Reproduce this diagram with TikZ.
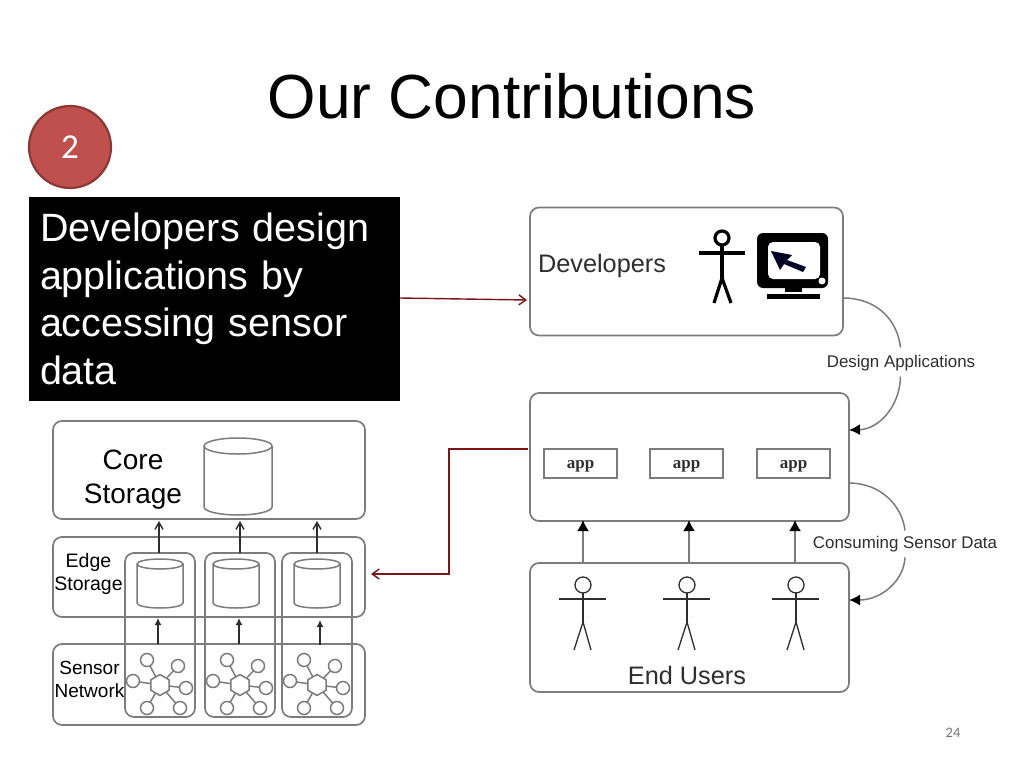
\documentclass[tikz,border=0pt]{standalone}
\usepackage{fontspec}
\setmainfont{Liberation Sans}
\newfontfamily\calib{Carlito}
\usetikzlibrary{arrows.meta,shapes.geometric}
\definecolor{lineg}{HTML}{7C7C7C}
\definecolor{linedk}{HTML}{2E2E2E}
\definecolor{darkred}{HTML}{7B1518}
\definecolor{badge}{HTML}{C0504D}
\definecolor{badgeb}{HTML}{8C3836}
\newcommand{\fs}[2]{\fontsize{#1}{#2}\selectfont}
\tikzset{
  every node/.append style={outer sep=0pt},
  bx/.style={draw=lineg,line width=1.7pt,rounded corners=9pt,inner sep=0pt},
  appbox/.style={draw=lineg,line width=1.7pt,minimum width=73pt,minimum height=29pt,inner sep=0pt,text=linedk},
  apptxt/.style={inner sep=0pt,text=linedk,font={\fontspec{Liberation Serif}\bfseries\fs{17}{19}}},
  lbl/.style={inner sep=0pt,text=black,align=center},
  flow/.style={draw=linedk,line width=1.4pt},
  upopen/.style={flow,-{Straight Barb[length=7pt,width=8pt]}},
  upsmall/.style={flow,-{Latex[length=7pt,width=7pt]}},
  upbig/.style={flow,draw=lineg,line width=1.8pt,{-{Latex[length=11pt,width=12pt,color=black]}}},
  curvearr/.style={draw=lineg,line width=1.5pt},
  redarr/.style={draw=darkred,line width=1.4pt,-{Straight Barb[length=7pt,width=10pt]}},
  cylline/.style={draw=lineg,line width=1.5pt},
  anchorbox/.style={inner sep=0pt},
  leaf/.style={circle,draw=lineg,fill=white,line width=1.5pt,minimum size=13pt,inner sep=0pt},
  hub/.style={regular polygon,regular polygon sides=6,shape border rotate=30,draw=lineg,fill=white,line width=1.5pt,minimum size=21pt,inner sep=0pt},
  spoke/.style={draw=lineg,line width=1.5pt},
  head/.style={circle,draw=linedk,line width=1.3pt,minimum size=16pt,inner sep=0pt},
  limb/.style={draw=linedk,line width=1.3pt},
  dlabel/.style={inner sep=0pt,fill=white,text=linedk,font=\fs{16.9}{19},minimum height=27pt}
}
% cylinder: name, centre x, top y, width, height, ellipse half-height
% (y axis points down, so angle 90 is the lowest point of an ellipse)
\newcommand{\drum}[6]{%
  \node[anchorbox,minimum width=#4 pt,minimum height=#5 pt] (#1) at (#2,#3+#5/2) {};
  \draw[cylline] (#2-#4/2,#3+#6) arc[start angle=180,end angle=360,x radius=#4/2,y radius=#6]
     -- (#2+#4/2,#3+#5-#6) arc[start angle=0,end angle=180,x radius=#4/2,y radius=#6] -- cycle;
  \draw[cylline] (#2-#4/2,#3+#6) arc[start angle=180,end angle=0,x radius=#4/2,y radius=#6];
}
% network: name, x, y
\newcommand{\netw}[3]{%
  \coordinate (#1hc) at (#2,#3);
  \foreach \dx/\dy in {-13/-25,18/-19,-27/-4,26/3,-13/23,20/23}{\draw[spoke] (#1hc) -- ++(\dx,\dy);}
  \node[hub] (#1h) at (#1hc) {};
  \node[leaf] (#1a) at (#2-13,#3-25) {};
  \node[leaf] (#1b) at (#2+18,#3-19) {};
  \node[leaf] (#1c) at (#2-27,#3-4) {};
  \node[leaf] (#1d) at (#2+26,#3+3) {};
  \node[leaf] (#1e) at (#2-13,#3+23) {};
  \node[leaf] (#1f) at (#2+20,#3+23) {};
}
% stick person: name, x
\newcommand{\person}[2]{%
  \node[head] (#1) at (#2,585) {};
  \coordinate (#1hip) at (#2,622);
  \draw[limb] (#1.south) -- (#1hip);
  \draw[limb] (#2-24,599) -- (#2+23,599);
  \draw[limb] (#2-9,650) -- (#1hip) -- (#2+8,650);
}
\begin{document}
\begin{tikzpicture}[x=1pt,y=-1pt]
\useasboundingbox (0,0) rectangle (1024,768);
\fill[white] (0,0) rectangle (1024,768);

% title, badge, callout
\node[lbl,font=\fs{62.3}{70}] (title) at (512,96) {Our Contributions};
\node[circle,fill=badge,draw=badgeb,line width=2.2pt,minimum size=82pt,inner sep=0pt,text=white,font={\calib\fs{35}{40}}] (badge) at (70,147) {2};
\node[fill=black,text=white,minimum width=371pt,minimum height=204pt,text width=349pt,inner xsep=11pt,inner ysep=0pt,align=left,font=\fs{39.5}{47.7}] (callout) at (214.5,299)
  {Developers design\\applications by\\accessing sensor\\data};

% right column
\node[bx,minimum width=313pt,minimum height=128pt] (dev) at (686.5,271.5) {};
\node[bx,minimum width=319pt,minimum height=128pt] (apps) at (689.5,457) {};
\node[bx,minimum width=319pt,minimum height=129pt] (users) at (689.5,627.5) {};
\node[appbox] (app1) at (580.5,463.5) {};
\node[appbox] (app2) at (686.5,463.5) {};
\node[appbox] (app3) at (793.5,463.5) {};
\node[apptxt] (app1t) at (580.5,466) {app};
\node[apptxt] (app2t) at (686.5,466) {app};
\node[apptxt] (app3t) at (793.5,466) {app};
\node[inner sep=0pt,text=linedk,font=\fs{25.3}{28}] (devtxt) at (602,266) {Developers};
\node[inner sep=0pt,text=linedk,font=\fs{25.3}{28}] (endtxt) at (687,675) {End Users};

% developer figure
\node[circle,draw=black,line width=3.2pt,minimum size=14pt,inner sep=0pt] (devhead) at (722,238) {};
\coordinate (devhip) at (722,278);
\draw[black,line width=3.2pt] (devhead.south) -- (devhip);
\draw[black,line width=3.2pt] (699,253) -- (745,253);
\draw[black,line width=3.2pt] (714,303) -- (devhip) -- (731,303);

% monitor
\fill[black,rounded corners=6pt] (757,233) rectangle (828,288);
\fill[white,rounded corners=5pt] (768,242) rectangle (820,279);
\fill[black] (785,287) rectangle (802,292);
\fill[black] (767,294) rectangle (820,299);
\fill[white] (822,281) circle (3.5);
\fill[black!85!blue] (771,251) -- (792,255) -- (787,260) -- (806,267) -- (803,272) -- (784,264) -- (780,270) -- cycle;

% end users
\person{pa}{583}
\person{pb}{687}
\person{pc}{796}

% users to apps
\coordinate (ua) at (583,563); \coordinate (ub) at (689,563); \coordinate (uc) at (795,563);
\coordinate (aa) at (583,520); \coordinate (ab) at (689,520); \coordinate (ac) at (795,520);
\draw[upbig] (ua) -- (aa);
\draw[upbig] (ub) -- (ab);
\draw[upbig] (uc) -- (ac);

% curved connectors
\node[dlabel] (design) at (901,363) {Design Applications};
\node[dlabel] (consume) at (905,544) {Consuming Sensor Data};
\coordinate (devout) at (843,298);
\coordinate (appin) at (849,430);
\coordinate (appout) at (849,483);
\coordinate (userin) at (849,600);
\draw[curvearr] (devout) .. controls (875,298) and (897,318) .. (900.5,347.5);
\draw[curvearr,-{Latex[length=11pt,width=11pt,color=black]}] (900.5,376.5) .. controls (900,405) and (880,429) .. (appin);
\draw[curvearr] (appout) .. controls (880,483) and (902,505) .. (905,530.5);
\draw[curvearr,-{Latex[length=11pt,width=11pt,color=black]}] (905,557.5) .. controls (904,580) and (882,600) .. (userin);

% left stack
\node[bx,minimum width=312pt,minimum height=98pt] (core) at (209,470) {};
\node[bx,minimum width=312pt,minimum height=80pt] (edge) at (209,577) {};
\node[bx,minimum width=312pt,minimum height=81pt] (sensor) at (209,684.5) {};
\node[bx,minimum width=70pt,minimum height=164pt] (cola) at (160,635) {};
\node[bx,minimum width=70pt,minimum height=164pt] (colb) at (240,635) {};
\node[bx,minimum width=70pt,minimum height=164pt] (colc) at (317,635) {};

\node[lbl,font=\fs{28}{34}] (coretxt) at (133,480) {Core\\Storage};
\node[lbl,font=\fs{19.5}{23}] (edgetxt) at (88.5,574) {Edge\\Storage};
\node[lbl,font=\fs{19}{23}] (sensortxt) at (89.5,679) {Sensor\\Network};

\drum{ccyl}{238}{438}{68}{77}{8}
\drum{ea}{160}{559}{46}{49}{5}
\drum{eb}{236}{559}{46}{49}{5}
\drum{ec}{317}{559}{46}{49}{5}

\netw{na}{160}{685}
\netw{nb}{240}{685}
\netw{nc}{317}{685}

\coordinate (ca) at (159,521); \coordinate (cb) at (240,521); \coordinate (cc) at (317,521);
\coordinate (ta) at (159,553); \coordinate (tb) at (240,553); \coordinate (tc) at (317,553);
\draw[upopen] (ta) -- (ca);
\draw[upopen] (tb) -- (cb);
\draw[upopen] (tc) -- (cc);
\coordinate (sa) at (158,644); \coordinate (sb) at (239,644); \coordinate (sc) at (320,645);
\coordinate (da) at (158,618); \coordinate (db) at (239,618); \coordinate (dc) at (320,620);
\draw[upsmall] (sa) -- (da);
\draw[upsmall] (sb) -- (db);
\draw[upsmall] (sc) -- (dc);

% red connectors
\coordinate (callout-r) at (400,298);
\coordinate (dev-l) at (527,300);
\coordinate (apps-l) at (528,449);
\coordinate (edge-r) at (371,574);
\draw[redarr] (callout-r) -- (dev-l);
\draw[redarr] (apps-l) -- (449,449) -- (449,574) -- (edge-r);

\node[inner sep=0pt,text=black!55,font={\calib\fs{14.5}{16}}] (page) at (953,733) {24};
\end{tikzpicture}
\end{document}
